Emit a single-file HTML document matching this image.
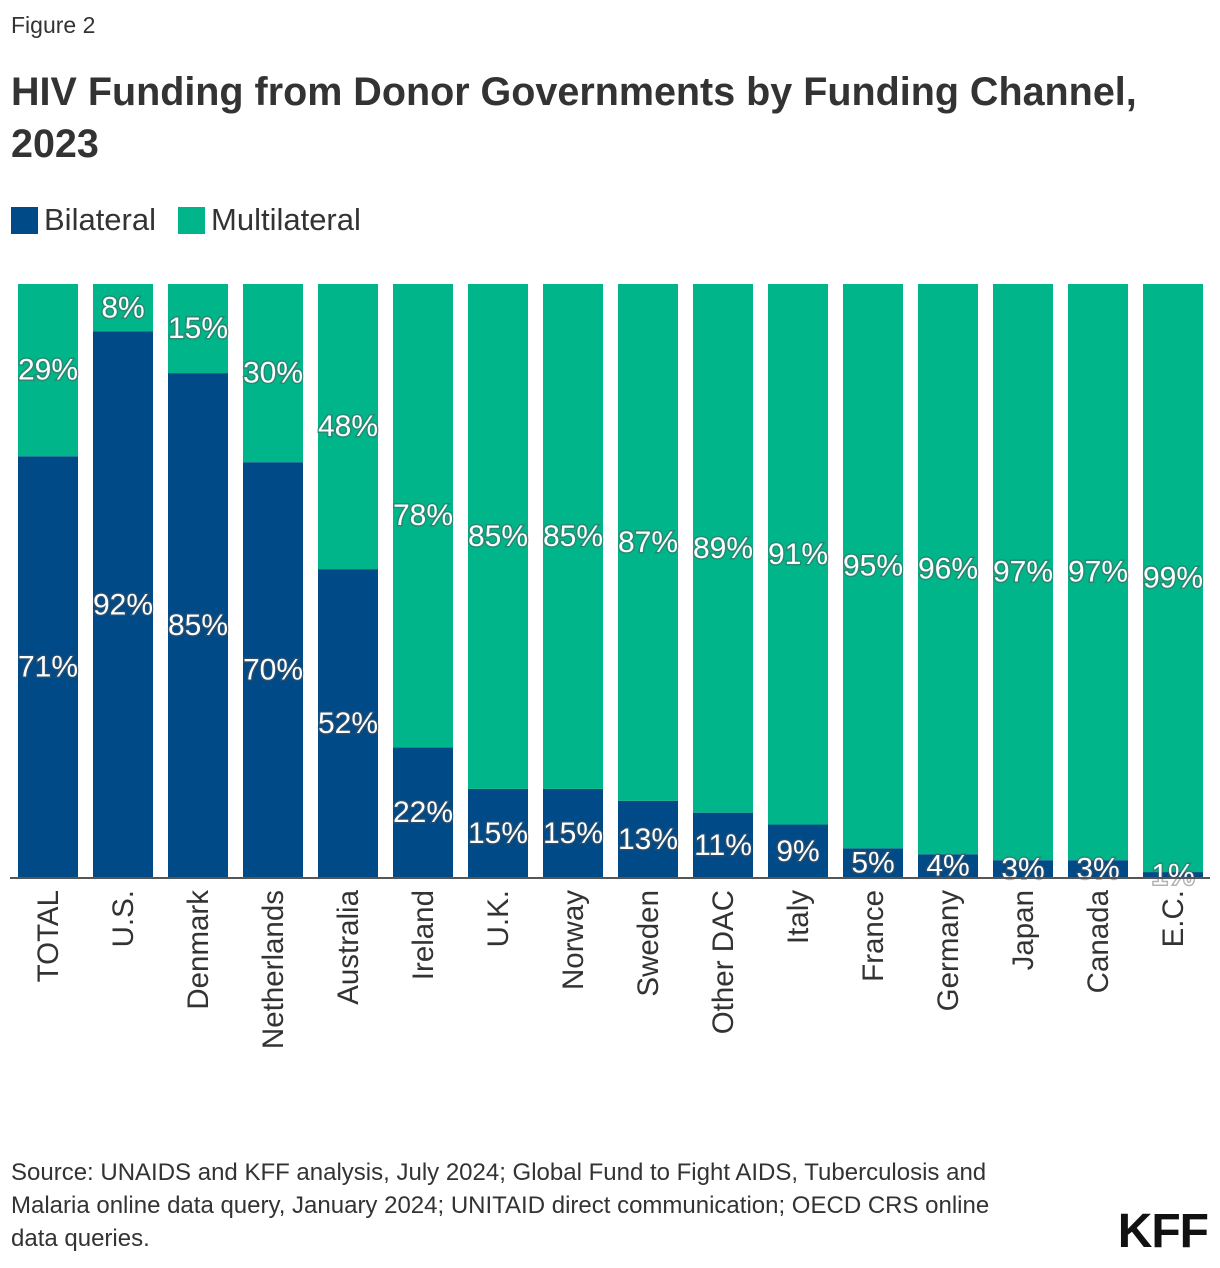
<!DOCTYPE html>
<html><head><meta charset="utf-8">
<style>
body{margin:0;background:#fff;font-family:"Liberation Sans",sans-serif;color:#222;}
#wrap{position:relative;width:1220px;height:1268px;overflow:hidden;}
.fig{position:absolute;left:11px;top:12px;font-size:23px;color:#333;}
.title{position:absolute;left:11px;top:66px;font-size:39.5px;font-weight:bold;line-height:52px;color:#333;white-space:nowrap;}
.legend{position:absolute;left:11px;top:202px;font-size:31px;color:#333;display:flex;align-items:center;}
.sw{width:27px;height:27px;display:inline-block;margin-right:6px;}
.src{position:absolute;left:11px;top:1156px;font-size:24px;line-height:33px;color:#333;white-space:nowrap;}
.kff{position:absolute;right:12px;top:1204px;font-size:48px;font-weight:bold;color:#111;letter-spacing:-1px;}
svg{position:absolute;left:0;top:0;}
</style></head><body>
<div id="wrap">
<div class="fig">Figure 2</div>
<div class="title">HIV Funding from Donor Governments by Funding Channel,<br>2023</div>
<div class="legend">
<span class="sw" style="background:#004a87"></span><span>Bilateral</span>
<span class="sw" style="background:#00b58a;margin-left:22px"></span><span>Multilateral</span>
</div>
<svg id="chart" width="1220" height="1268"></svg>
<div class="src">Source: UNAIDS and KFF analysis, July 2024; Global Fund to Fight AIDS, Tuberculosis and<br>Malaria online data query, January 2024; UNITAID direct communication; OECD CRS online<br>data queries.</div>
<div class="kff">KFF</div>
</div>
<script>
const categories=["TOTAL","U.S.","Denmark","Netherlands","Australia","Ireland","U.K.","Norway","Sweden","Other DAC","Italy","France","Germany","Japan","Canada","E.C."];
const bilateral=[71,92,85,70,52,22,15,15,13,11,9,5,4,3,3,1];
const multilateral=[29,8,15,30,48,78,85,85,87,89,91,95,96,97,97,99];
const NS="http://www.w3.org/2000/svg";
const svg=document.getElementById('chart');
const top0=284,bot=878,x0=18,step=75,bw=60;
const y=v=>bot-(v/100)*(bot-top0);
const xc=i=>x0+i*step;
function mk(t,a){const e=document.createElementNS(NS,t);for(const k in a)e.setAttribute(k,a[k]);svg.appendChild(e);return e;}
function lbl(x,yy,s){const t=mk('text',{x:x,y:yy,'text-anchor':'middle','dominant-baseline':'central','font-size':'30','fill':'#fff','stroke':'#555','stroke-width':'3','stroke-opacity':'0.45','paint-order':'stroke','font-family':'Liberation Sans, sans-serif'});t.textContent=s;return t;}
categories.forEach((c,i)=>{
  const b=bilateral[i],m=multilateral[i];
  const rb=mk('rect',{x:xc(i),y:y(b),width:bw,height:bot-y(b),fill:'#004a87'});
  
  
  const rm=mk('rect',{x:xc(i),y:y(b+m),width:bw,height:y(b)-y(b+m),fill:'#00b58a'});
  
  
  const l1=lbl(xc(i)+bw/2,(y(b)+bot)/2,b+'%');
  
  
  const l2=lbl(xc(i)+bw/2,(y(b)+y(b+m))/2,m+'%');
  
  
  const cx=xc(i)+bw/2+10;
  const t=mk('text',{x:cx,y:890,transform:`rotate(-90 ${cx} 890)`,'text-anchor':'end','font-size':'29.5','fill':'#333','font-family':'Liberation Sans, sans-serif'});
  t.textContent=c;
  
  
});
const ax=mk('line',{x1:10,x2:1210,y1:bot,y2:bot,stroke:'#555','stroke-width':2});


</script>
</body></html>
